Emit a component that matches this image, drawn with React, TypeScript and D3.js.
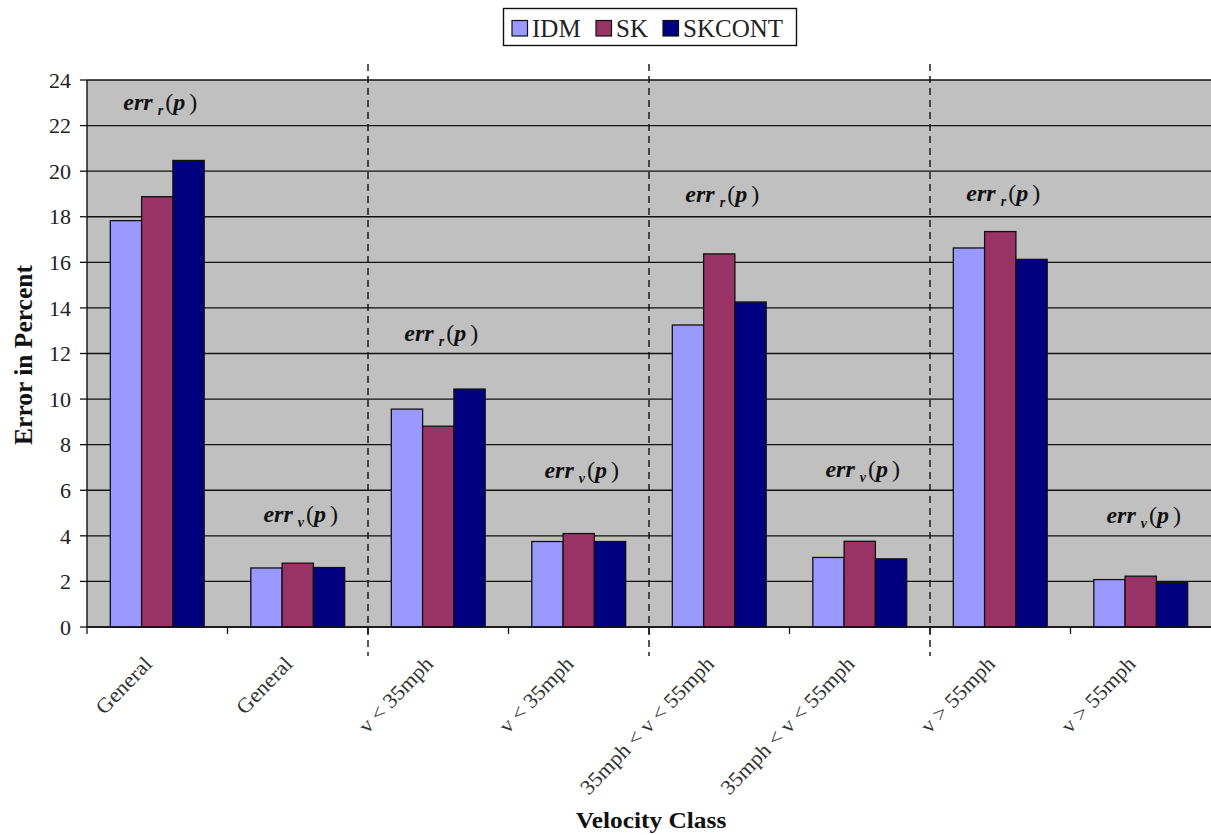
import React from "react";
import * as d3 from "d3";

const categories = ["General", "General", "v < 35mph", "v < 35mph", "35mph < v < 55mph", "35mph < v < 55mph", "v > 55mph", "v > 55mph"];
const seriesNames = ["IDM", "SK", "SKCONT"];
const idm = [17.83, 2.59, 9.56, 3.75, 13.25, 3.05, 16.63, 2.08];
const sk = [18.88, 2.8, 8.81, 4.1, 16.37, 3.76, 17.35, 2.23];
const skcont = [20.47, 2.61, 10.44, 3.75, 14.26, 2.99, 16.13, 1.95];
const seriesColors = ["#9999ff", "#993366", "#000080"];
const yTicks = [0, 2, 4, 6, 8, 10, 12, 14, 16, 18, 20, 22, 24];
// annotation per category: subscript letter and y-value of its baseline
const annSub = ["r", "v", "r", "v", "r", "v", "r", "v"];
const annVal = [22.7, 4.6, 12.56, 6.55, 18.66, 6.58, 18.68, 4.57];

const W = 1211, H = 835;
const left = 87, right = 1211, top = 80, bottom = 627;
const serif = "Liberation Serif, Times New Roman, serif";

export default function App() {
  const values = [idm, sk, skcont];
  const x = d3.scaleBand<number>().domain(d3.range(categories.length)).range([left, right]);
  const inner = d3.scaleBand<number>().domain([0, 1, 2]).range([0, x.bandwidth()]).paddingOuter(0.745).paddingInner(0);
  const y = d3.scaleLinear().domain([0, 24]).range([bottom, top]);
  const bw = x.bandwidth();

  return (
    <svg width={W} height={H} style={{ position: "absolute", left: 0, top: 0, background: "#fff", fontFamily: serif }}>
      <rect x={left} y={top} width={right - left} height={bottom - top} fill="#c0c0c0" />
      {yTicks.map((t) => (
        <line key={"g" + t} x1={left} x2={right} y1={y(t)} y2={y(t)} stroke="#111" strokeWidth={1.3} />
      ))}
      {values.map((vals, s) =>
        vals.map((v, i) => (
          <rect key={s + "-" + i} x={(x(i) as number) + (inner(s) as number)} y={y(v)} width={inner.bandwidth()} height={y(0) - y(v)}
            fill={seriesColors[s]} stroke="#111" strokeWidth={1.3} />
        ))
      )}
      {/* dashed separators */}
      {[2, 4, 6].map((i) => (
        <line key={"d" + i} x1={x(i) as number} x2={x(i) as number} y1={64} y2={656} stroke="#111" strokeWidth={1.4} strokeDasharray="7,5" />
      ))}
      {/* axes */}
      <line x1={left} x2={left} y1={top} y2={bottom} stroke="#111" strokeWidth={1.4} />
      <line x1={left} x2={right} y1={bottom} y2={bottom} stroke="#111" strokeWidth={1.4} />
      {yTicks.map((t) => (
        <g key={"yt" + t}>
          <line x1={left - 7} x2={left} y1={y(t)} y2={y(t)} stroke="#111" strokeWidth={1.3} />
          <text x={71} y={y(t)} dy="0.35em" textAnchor="end" fontSize={22} fill="#222" style={{ fontFamily: serif }}>{t}</text>
        </g>
      ))}
      {d3.range(categories.length).map((i) => (
        <line key={"xt" + i} x1={x(i) as number} x2={x(i) as number} y1={bottom} y2={bottom + 7} stroke="#111" strokeWidth={1.3} />
      ))}
      {categories.map((c, i) => {
        const cx = (x(i) as number) + bw / 2 - 4;
        const cy = bottom + 38;
        return (
          <text key={"xl" + i} transform={`translate(${cx},${cy}) rotate(-46) scale(1.06,1)`} textAnchor="end" fontSize={21} fill="#333" style={{ fontFamily: serif }}>{c}</text>
        );
      })}
      {/* annotations */}
      {annSub.map((s, i) => {
        const ax = (x(i) as number) + bw / 2 + 3;
        const ay = y(annVal[i]);
        return (
          <text key={"a" + i} x={ax} y={ay} textAnchor="middle" fontSize={24} fill="#111" style={{ fontFamily: serif }}>
            <tspan fontWeight="bold" fontStyle="italic">err</tspan>
            <tspan fontWeight="bold" fontStyle="italic" fontSize={14} dy={5} dx={5}>{s}</tspan>
            <tspan dy={-5} dx={2}>(</tspan>
            <tspan fontWeight="bold" fontStyle="italic">p</tspan>
            <tspan dx={4}>)</tspan>
          </text>
        );
      })}
      {/* axis titles */}
      <text transform={`translate(32,355) rotate(-90)`} textAnchor="middle" fontSize={25.5} fontWeight="bold" fill="#111" style={{ fontFamily: serif }}>Error in Percent</text>
      <text transform={`translate(651,828) scale(1.08,1)`} textAnchor="middle" fontSize={23.5} fontWeight="bold" fill="#111" style={{ fontFamily: serif }}>Velocity Class</text>
      {/* legend */}
      <rect x={503.5} y={8.5} width={293} height={37} fill="#fff" stroke="#111" strokeWidth={1.4} />
      {seriesNames.map((n, i) => {
        const offs = [512, 596, 663];
        return (
          <g key={"l" + i}>
            <rect x={offs[i]} y={20.5} width={15.5} height={15.5} fill={seriesColors[i]} stroke="#111" strokeWidth={1.2} />
            <text x={offs[i] + 20} y={37} fontSize={25} fill="#222" style={{ fontFamily: serif }}>{n}</text>
          </g>
        );
      })}
    </svg>
  );
}
